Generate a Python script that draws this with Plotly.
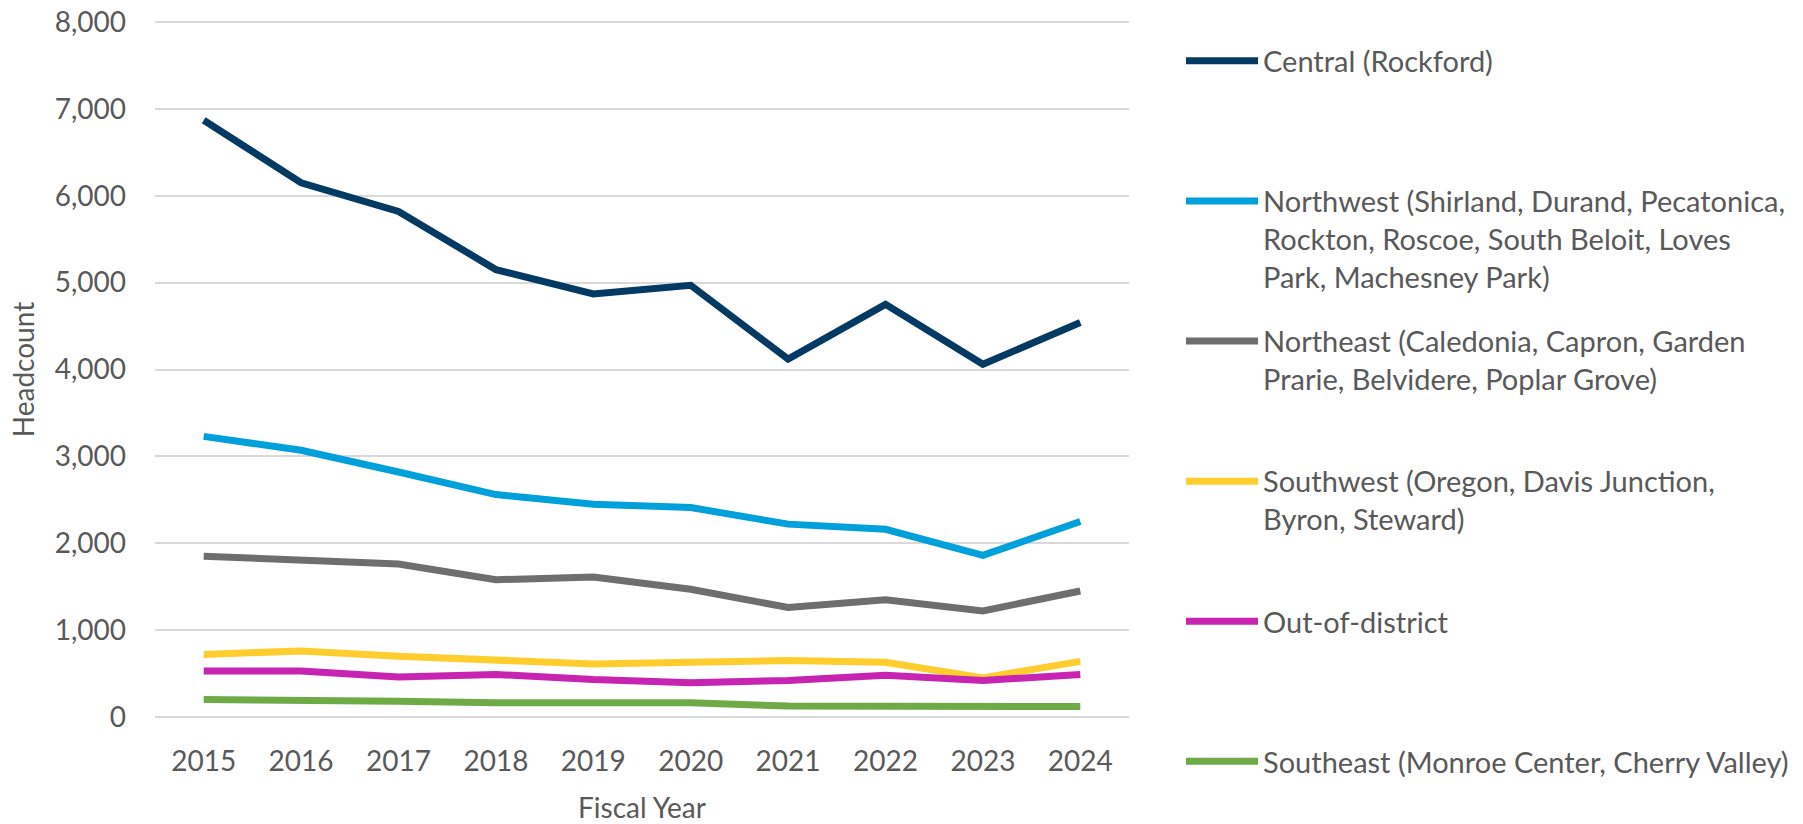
import plotly.graph_objects as go

years = ["2015", "2016", "2017", "2018", "2019", "2020", "2021", "2022", "2023", "2024"]

central = [6870, 6150, 5820, 5150, 4870, 4970, 4120, 4750, 4060, 4540]
northwest = [3230, 3070, 2820, 2560, 2450, 2410, 2220, 2160, 1860, 2250]
northeast = [1850, 1810, 1760, 1580, 1610, 1470, 1260, 1350, 1220, 1450]
southwest = [720, 760, 700, 660, 610, 630, 650, 630, 450, 640]
out_of_district = [530, 530, 460, 490, 430, 395, 420, 480, 420, 490]
southeast = [200, 200, 180, 165, 165, 165, 125, 125, 105, 120]

series_names = [
    "Central (Rockford)",
    "Northwest (Shirland, Durand, Pecatonica,<br>Rockton, Roscoe, South Beloit, Loves<br>Park, Machesney Park)",
    "Northeast (Caledonia, Capron, Garden<br>Prarie, Belvidere, Poplar Grove)",
    "Southwest (Oregon, Davis Junction,<br>Byron, Steward)",
    "Out-of-district",
    "Southeast (Monroe Center, Cherry Valley)",
]
series_values = [central, northwest, northeast, southwest, out_of_district, southeast]
colors = ["#033a64", "#00a0da", "#6e6e6e", "#ffcd2e", "#c724b1", "#6eab46"]

TEXT = "#595959"
FONT = "Lato"
FS = 28
LFS = 29


def pad_lines(label, n):
    k = label.count("<br>") + 1
    return label + "<br>\u00a0" * max(0, n - k)


fig = go.Figure()
n_series = len(series_names)
for i, (name, vals, col) in enumerate(zip(series_names, series_values, colors)):
    fig.add_trace(go.Scatter(
        x=years, y=vals, mode="lines",
        name=pad_lines(name, 3 if i < n_series - 1 else 1),
        legendgroup="g%d" % i,
        line=dict(color=col, width=7),
    ))

# slight range padding so the 0 and 8,000 gridlines are not clipped at the plot edges
L, R, T, B = 155, 674, 21, 106
W, H = 1803, 824
plot_w = W - L - R

fig.update_layout(
    width=W, height=H,
    margin=dict(l=L, r=R, t=T, b=B, pad=0, autoexpand=False),
    paper_bgcolor="white", plot_bgcolor="white",
    font=dict(family=FONT, size=FS, color=TEXT),
    showlegend=True,
    legend=dict(
        x=(1181 - L) / plot_w, xanchor="left",
        yref="container", y=1 - 35.5 / H, yanchor="top",
        valign="top",
        bgcolor="rgba(0,0,0,0)",
        borderwidth=0,
        font=dict(family=FONT, size=LFS, color=TEXT),
        itemwidth=72,
        tracegroupgap=24,
        maxheight=815,
    ),
    xaxis=dict(
        type="category",
        range=[-0.5, 9.5],
        showgrid=False, zeroline=False, showline=False,
        ticks="", ticklabelstandoff=24,
        tickfont=dict(family=FONT, size=FS, color=TEXT),
        title=dict(text="Fiscal Year", font=dict(family=FONT, size=FS, color=TEXT), standoff=26),
    ),
    yaxis=dict(
        range=[-12, 8012],
        dtick=1000, tick0=0,
        tickformat=",",
        showgrid=True, gridcolor="#d9d9d9", gridwidth=2,
        zeroline=False, showline=False,
        ticks="", ticklabelstandoff=28,
        tickfont=dict(family=FONT, size=FS, color=TEXT),
        title=dict(text="Headcount", font=dict(family=FONT, size=FS, color=TEXT), standoff=11),
    ),
)

fig.write_html(
    "out.html",
    config={"displayModeBar": False},
    post_script="document.body.style.margin='0';",
)
